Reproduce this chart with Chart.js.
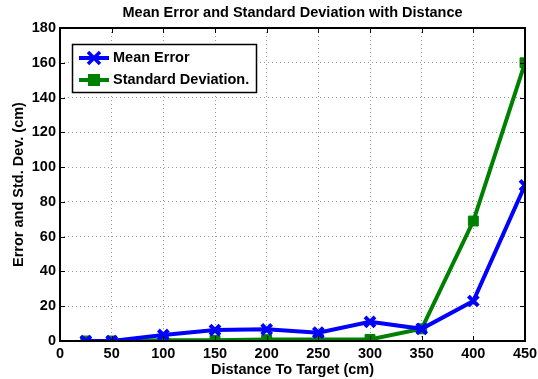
<!DOCTYPE html>
<html><head><meta charset="utf-8">
<script src="https://cdn.jsdelivr.net/npm/chart.js@4"></script>
<style>html,body{margin:0;padding:0;background:#fff}#w{width:538px;height:379px}</style>
</head><body><div id="w"><canvas id="c" width="538" height="379"></canvas></div>
<script>
const distances = [25, 50, 100, 150, 200, 250, 300, 350, 400, 450];
const meanError = [0, 0, 3.5, 6.3, 6.7, 4.8, 11, 7, 23, 89.5];
const stdDev = [0, 0, 0.4, 0.4, 0.8, 0.9, 0.9, 7, 69, 160];
const xTicks = [0, 50, 100, 150, 200, 250, 300, 350, 400, 450];
const yTicks = [0, 20, 40, 60, 80, 100, 120, 140, 160, 180];
const seriesLabels = ['Mean Error', 'Standard Deviation.'];
const chartTitle = 'Mean Error and Standard Deviation with Distance';
const FONT = '"Liberation Sans", Arial, sans-serif';
const FS = 14.5;

const pts = (ys) => distances.map((x, i) => ({x, y: ys[i]}));

const frame = {
  id: 'frame',
  afterDatasetsDraw(chart) {
    const {ctx, chartArea: a, scales: {x, y}} = chart;
    ctx.save();
    ctx.strokeStyle = '#000';
    ctx.lineWidth = 1;
    ctx.beginPath();
    xTicks.forEach(v => {
      const px = Math.round(x.getPixelForValue(v)) + 0.5;
      ctx.moveTo(px, a.bottom); ctx.lineTo(px, a.bottom - 5);
      ctx.moveTo(px, a.top); ctx.lineTo(px, a.top + 5);
    });
    yTicks.forEach(v => {
      const py = Math.round(y.getPixelForValue(v)) + 0.5;
      ctx.moveTo(a.left, py); ctx.lineTo(a.left + 5, py);
      ctx.moveTo(a.right, py); ctx.lineTo(a.right - 5, py);
    });
    ctx.stroke();
    ctx.lineWidth = 2;
    ctx.strokeRect(a.left, a.top, a.right - a.left, a.bottom - a.top);
    ctx.fillStyle = '#000';
    ctx.font = 'bold ' + FS + 'px ' + FONT;
    ctx.textAlign = 'center';
    ctx.textBaseline = 'middle';
    ctx.fillText(chartTitle, (a.left + a.right) / 2, 13);
    const lx = 72, ly = 44, lw = 184, lh = 48;
    ctx.fillStyle = '#fff';
    ctx.fillRect(lx, ly, lw, lh);
    ctx.strokeStyle = '#000';
    ctx.lineWidth = 1.5;
    ctx.strokeRect(lx + 0.5, ly + 0.5, lw, lh);
    ctx.textAlign = 'left';
    chart.data.datasets.forEach((ds, i) => {
      const cy = ly + 14 + i * 22;
      ctx.strokeStyle = ds.borderColor;
      ctx.lineWidth = 4;
      ctx.beginPath(); ctx.moveTo(lx + 7, cy); ctx.lineTo(lx + 37, cy); ctx.stroke();
      ctx.fillStyle = ds.borderColor;
      if (i === 0) {
        ctx.lineWidth = 3.5;
        ctx.beginPath();
        ctx.moveTo(lx + 16, cy - 6); ctx.lineTo(lx + 28, cy + 6);
        ctx.moveTo(lx + 28, cy - 6); ctx.lineTo(lx + 16, cy + 6);
        ctx.stroke();
      } else {
        ctx.fillRect(lx + 16, cy - 6, 12, 12);
      }
      ctx.fillStyle = '#000';
      ctx.fillText(ds.label, lx + 41, cy);
    });
    ctx.restore();
  }
};

new Chart(document.getElementById('c'), {
  type: 'scatter',
  data: {
    datasets: [
      {label: seriesLabels[0], data: pts(meanError), showLine: true, borderColor: '#0000ff', backgroundColor: '#0000ff',
       borderWidth: 4, pointStyle: 'crossRot', pointRadius: 7, pointBorderWidth: 4, order: 1},
      {label: seriesLabels[1], data: pts(stdDev), showLine: true, borderColor: '#008000', backgroundColor: '#008000',
       borderWidth: 4, pointStyle: 'rect', pointRadius: 7, pointBorderWidth: 1, order: 2}
    ]
  },
  options: {
    responsive: false, animation: false, devicePixelRatio: 1,
    layout: {padding: {top: 28, right: 0, bottom: 0, left: 0}, autoPadding: false},
    plugins: {legend: {display: false}, tooltip: {enabled: false}, title: {display: false}},
    scales: {
      x: {type: 'linear', min: 0, max: 450,
          afterBuildTicks: s => { s.ticks = xTicks.map(v => ({value: v})); },
          afterFit: s => { s.height = 38; s.paddingRight = 13; s.paddingLeft = 0; },
          ticks: {color: '#000', font: {family: FONT, size: FS, weight: 'bold'}, padding: 4, maxRotation: 0},
          grid: {color: '#999999', lineWidth: 1, drawTicks: false},
          border: {display: false, dash: [1, 3]},
          title: {display: true, text: 'Distance To Target (cm)', color: '#000', font: {family: FONT, size: FS, weight: 'bold'}, padding: {top: 0, bottom: 0}}
      },
      y: {type: 'linear', min: 0, max: 180,
          afterBuildTicks: s => { s.ticks = yTicks.map(v => ({value: v})); },
          afterFit: s => { s.width = 60; s.paddingTop = 0; s.paddingBottom = 0; },
          ticks: {color: '#000', font: {family: FONT, size: FS, weight: 'bold'}, padding: 4},
          grid: {color: '#999999', lineWidth: 1, drawTicks: false},
          border: {display: false, dash: [1, 3]},
          title: {display: true, text: 'Error and Std. Dev. (cm)', color: '#000', font: {family: FONT, size: FS, weight: 'bold'}, padding: {top: 10, bottom: 0}}
      }
    }
  },
  plugins: [frame]
});
</script></body></html>
